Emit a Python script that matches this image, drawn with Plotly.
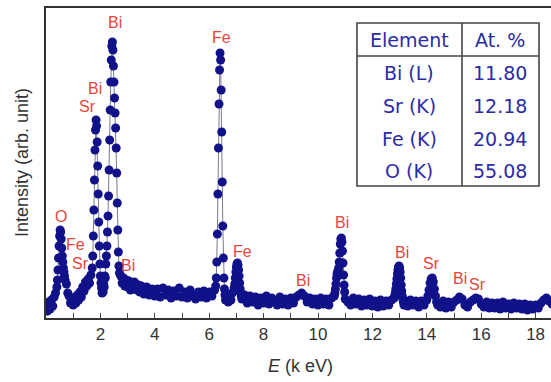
import plotly.graph_objects as go

# ---------------- data ----------------
energy_kev = [
    0.00, 0.05, 0.10, 0.15, 0.20, 0.25, 0.30, 0.35, 0.40,
    0.42, 0.44, 0.46, 0.48, 0.50, 0.52, 0.54, 0.56, 0.58, 0.60, 0.62, 0.64, 0.66, 0.68, 0.70,
    0.75, 0.80, 0.85, 0.90, 0.95, 1.00, 1.05, 1.10, 1.15, 1.20, 1.25, 1.30, 1.35, 1.40, 1.45, 1.50, 1.55, 1.60, 1.65, 1.70,
    1.72, 1.74, 1.76, 1.78, 1.80, 1.82, 1.84, 1.86, 1.88, 1.90, 1.92, 1.94, 1.96, 1.98, 2.00,
    2.02, 2.04, 2.06, 2.08, 2.10, 2.12, 2.14, 2.16, 2.18, 2.20, 2.22, 2.24, 2.26,
    2.28, 2.30, 2.32, 2.34, 2.36, 2.38, 2.40, 2.42, 2.44, 2.46, 2.48, 2.50, 2.52, 2.54, 2.56, 2.58, 2.60, 2.62, 2.64, 2.66, 2.68, 2.70,
    2.75, 2.80, 2.85, 2.90, 2.95, 3.00, 3.05, 3.10, 3.15, 3.20, 3.25, 3.30, 3.35, 3.40, 3.45,
    3.5, 3.6, 3.7, 3.8, 3.9, 4.0, 4.1, 4.2, 4.3, 4.4, 4.5, 4.6, 4.7, 4.8, 4.9, 5.0, 5.1, 5.2, 5.3, 5.4, 5.5, 5.6, 5.7, 5.8, 5.9, 6.0, 6.1, 6.2,
    6.24, 6.26, 6.28, 6.30, 6.32, 6.34, 6.36, 6.38, 6.40, 6.42, 6.44, 6.46, 6.48, 6.50, 6.52, 6.54, 6.56, 6.58, 6.60,
    6.65, 6.70, 6.75, 6.80, 6.85, 6.90,
    6.92, 6.94, 6.96, 6.98, 7.00, 7.02, 7.04, 7.06, 7.08, 7.10, 7.12, 7.14, 7.16, 7.18, 7.20,
    7.3, 7.4, 7.5, 7.6, 7.7, 7.8, 7.9, 8.0, 8.1, 8.2, 8.3, 8.4, 8.5, 8.6, 8.7, 8.8, 8.9, 9.0, 9.1, 9.2,
    9.3, 9.4, 9.5, 9.6, 9.7, 9.8, 9.9, 10.0, 10.1, 10.2, 10.3, 10.4, 10.5, 10.6,
    10.62, 10.64, 10.66, 10.68, 10.70, 10.72, 10.74, 10.76, 10.78, 10.80, 10.82, 10.84, 10.86, 10.88, 10.90, 10.92, 10.94, 10.96, 10.98, 11.00,
    11.1, 11.2, 11.3, 11.4, 11.5, 11.6, 11.7, 11.8, 11.9, 12.0, 12.1, 12.2, 12.3, 12.4, 12.5, 12.6, 12.7, 12.8,
    12.82, 12.84, 12.86, 12.88, 12.90, 12.92, 12.94, 12.96, 12.98, 13.00, 13.02, 13.04, 13.06, 13.08, 13.10, 13.12, 13.14, 13.16,
    13.2, 13.3, 13.4, 13.5, 13.6, 13.7, 13.8, 13.9, 14.0,
    14.04, 14.08, 14.12, 14.16, 14.20, 14.24, 14.28, 14.32, 14.36, 14.40,
    14.5, 14.6, 14.7, 14.8, 14.9, 15.0, 15.1, 15.2, 15.3, 15.4,
    15.5, 15.6, 15.7, 15.8, 15.9, 16.0, 16.1, 16.2, 16.3, 16.4,
    16.5, 16.6, 16.7, 16.8, 16.9, 17.0, 17.1, 17.2, 17.3, 17.4,
    17.5, 17.6, 17.7, 17.8, 17.9, 18.0, 18.1, 18.2, 18.3, 18.4,
    18.5, 18.6,
]

intensity = [
    14, 7, 16, 9, 18, 12, 21, 25, 31,
    38, 48, 60, 72, 82, 88, 86, 79, 70, 62, 56, 50, 46, 42, 38,
    34, 25, 22, 15, 19, 13, 20, 15, 23, 18, 26, 21, 31, 27, 36, 32, 39, 35, 43, 50,
    62, 82, 108, 138, 168, 188, 198, 192, 176, 152, 124, 96, 72, 54, 42,
    35, 30, 25, 31, 26, 34, 31, 42, 40, 54, 62, 72, 86,
    102, 122, 148, 178, 208, 236, 258, 272, 276, 268, 252, 236, 220, 205, 190, 170, 145, 115, 88, 66, 52, 45,
    42, 35, 40, 32, 38, 31, 37, 28, 35, 29, 36, 30, 28, 33, 26,
    32, 24, 31, 23, 29, 22, 29, 21, 30, 23, 28, 20, 27, 22, 30, 21, 26, 20, 28, 22, 19, 26, 21, 27, 20, 26, 22, 28,
    32, 40, 56, 84, 124, 170, 214, 248, 265, 258, 228, 186, 136, 92, 60, 40, 29, 23, 18,
    21, 16, 23, 18, 25, 27,
    30, 34, 40, 46, 51, 54, 55, 53, 48, 42, 35, 29, 25, 22, 19,
    23, 15, 22, 16, 21, 13, 20, 15, 22, 14, 20, 16, 13, 21, 14, 19, 13, 20, 15, 21,
    23, 25, 22, 16, 20, 14, 19, 13, 20, 14, 19, 13, 20, 22,
    25, 29, 34, 40, 44, 46, 47, 50, 56, 65, 74, 79, 80, 76, 67, 55, 43, 33, 26, 19,
    16, 13, 20, 14, 19, 12, 18, 13, 19, 12, 17, 11, 18, 12, 17, 13, 18, 20,
    22, 25, 29, 34, 39, 44, 48, 51, 52, 50, 46, 40, 33, 27, 22, 19, 16, 13,
    17, 12, 18, 13, 17, 11, 17, 13, 18,
    22, 28, 35, 39, 40, 36, 29, 22, 16, 13,
    11, 17, 10, 16, 11, 16, 18, 21, 19, 13,
    11, 16, 18, 20, 19, 14, 11, 16, 10, 15,
    10, 15, 9, 16, 10, 14, 9, 15, 10, 14,
    9, 14, 8, 13, 9, 13, 10, 15, 18, 20,
    17, 14,
]

assert len(energy_kev) == len(intensity)

# peak labels: element symbol, energy (keV), label height (intensity units)
peak_label_text = ["Bi", "Fe", "Bi", "Sr", "O", "Fe", "Sr", "Bi", "Fe", "Bi", "Bi", "Bi", "Sr", "Bi", "Sr"]
peak_label_energy = [2.54, 6.47, 1.80, 1.51, 0.55, 1.10, 1.25, 3.01, 7.21, 9.45, 10.88, 13.09, 14.19, 15.22, 15.88]
peak_label_height = [296, 281, 230, 212, 102, 74, 55, 53, 67, 38, 96, 66, 55, 40, 34]

# composition table
table_header = ["Element", "At. %"]
element_names = ["Bi (L)", "Sr (K)", "Fe (K)", "O (K)"]
atomic_percent = ["11.80", "12.18", "20.94", "55.08"]

x_tick_values = [2, 4, 6, 8, 10, 12, 14, 16, 18]

# ---------------- figure ----------------
W, H = 551, 382
ML, MR, MT, MB = 46, 0, 8, 64
PW, PH = W - ML - MR, H - MT - MB


def px(xp):
    return (xp - ML) / PW


def py(yp):
    return (MT + PH - yp) / PH


fig = go.Figure()
fig.add_trace(go.Scatter(
    x=energy_kev, y=intensity, mode="lines+markers",
    line=dict(color="#7a7a90", width=1),
    marker=dict(color="#11118a", size=9, line=dict(width=0)),
    showlegend=False, hoverinfo="skip",
))

red = "#e4473d"
annotations = []
for t, e, h in zip(peak_label_text, peak_label_energy, peak_label_height):
    annotations.append(dict(x=e, y=h, xref="x", yref="y", text=t, showarrow=False,
                            font=dict(family="Liberation Sans, Arial", size=16, color=red),
                            xanchor="center", yanchor="middle"))

# table geometry (pixels)
tx0, tx1, ty0, ty1 = 357, 539, 23, 186
t_div_x, t_head_y = 462, 56
col_centers = [409, 500]
row_centers = [40, 73, 106, 139, 171]
blue = "#2b2ba5"
shapes = [
    dict(type="rect", xref="paper", yref="paper", x0=px(tx0), x1=px(tx1), y0=py(ty1), y1=py(ty0),
         line=dict(color="#444", width=1.6), fillcolor="white", layer="above"),
    dict(type="line", xref="paper", yref="paper", x0=px(tx0), x1=px(tx1), y0=py(t_head_y), y1=py(t_head_y),
         line=dict(color="#444", width=1.6), layer="above"),
    dict(type="line", xref="paper", yref="paper", x0=px(t_div_x), x1=px(t_div_x), y0=py(ty1), y1=py(ty0),
         line=dict(color="#444", width=1.6), layer="above"),
]
rows = [table_header] + [[a, b] for a, b in zip(element_names, atomic_percent)]
for r, row in enumerate(rows):
    for c, txt in enumerate(row):
        annotations.append(dict(x=px(col_centers[c]), y=py(row_centers[r]), xref="paper", yref="paper",
                                text=txt, showarrow=False, xanchor="center", yanchor="middle",
                                font=dict(family="DejaVu Sans", size=19, color=blue)))

# axis titles
annotations.append(dict(x=px(22), y=py(163), xref="paper", yref="paper", text="Intensity (arb. unit)",
                        textangle=-90, showarrow=False, xanchor="center", yanchor="middle",
                        font=dict(family="Liberation Sans, Arial", size=18, color="#333")))
annotations.append(dict(x=px(300), y=py(366), xref="paper", yref="paper", text="<i>E</i> (k eV)",
                        showarrow=False, xanchor="center", yanchor="middle",
                        font=dict(family="Liberation Sans, Arial", size=18, color="#333")))

fig.update_layout(
    width=W, height=H,
    margin=dict(l=ML, r=MR, t=MT, b=MB, pad=0),
    paper_bgcolor="white", plot_bgcolor="white",
    annotations=annotations, shapes=shapes,
    xaxis=dict(range=[0, PW / 27.2], tickvals=x_tick_values, ticks="inside", ticklen=5,
               tickcolor="#444", tickwidth=1.2,
               minor=dict(dtick=1, tick0=0, ticks="inside", ticklen=5, tickcolor="#444", tickwidth=1.2),
               showline=True, linecolor="#333", linewidth=1.5, mirror=True,
               showgrid=False, zeroline=False,
               tickfont=dict(family="Liberation Sans, Arial", size=17, color="#333")),
    yaxis=dict(range=[0, PH], showticklabels=False, ticks="", showline=True, linecolor="#333",
               linewidth=1.5, showgrid=False, zeroline=False),
)

fig.write_html("out.html")
